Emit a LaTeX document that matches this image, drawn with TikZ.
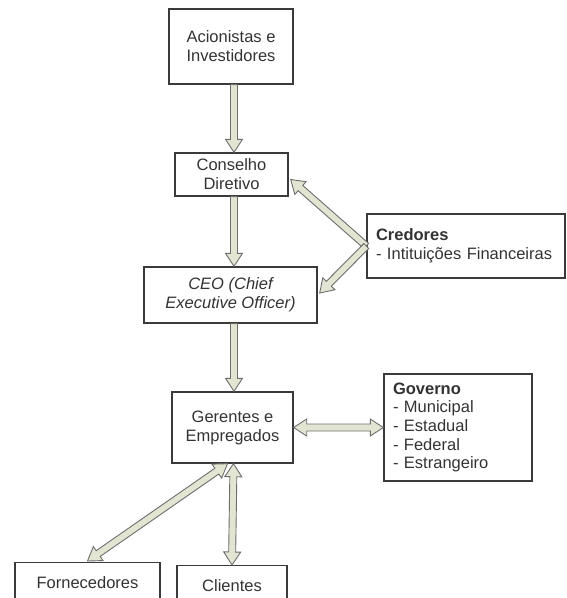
\documentclass[tikz,border=0pt]{standalone}
\usepackage{fontspec}
\setmainfont{Liberation Sans}
\usetikzlibrary{calc}
\definecolor{arrfill}{HTML}{E3E5D3}
\definecolor{arrline}{HTML}{6E6E6E}
\definecolor{boxline}{HTML}{3A3A3A}
\definecolor{txt}{HTML}{333333}
\tikzset{
  box/.style={draw=boxline, line width=1.4pt, fill=white, inner sep=0pt, align=center, text=txt,
              font=\fontsize{16.5}{19}\selectfont},
  blk/.style={fill=arrfill, draw=arrline, line width=0.9pt, line join=miter},
}
% single block arrow, head at #2
\newcommand{\arrS}[2]{%
  \path (#1) coordinate (aA) (#2) coordinate (aB);
  \path ($(aB)!13pt!(aA)$) coordinate (aBh);
  \filldraw[blk] ($(aA)!3.5pt!90:(aB)$) -- ($(aBh)!3.5pt!90:(aB)$) -- ($(aBh)!8.5pt!90:(aB)$)
    -- (aB) -- ($(aBh)!8.5pt!-90:(aB)$) -- ($(aBh)!3.5pt!-90:(aB)$) -- ($(aA)!3.5pt!-90:(aB)$) -- cycle;}
% double block arrow
\newcommand{\arrD}[2]{%
  \path (#1) coordinate (aA) (#2) coordinate (aB);
  \path ($(aB)!13pt!(aA)$) coordinate (aBh) ($(aA)!13pt!(aB)$) coordinate (aAh);
  \filldraw[blk] (aA) -- ($(aAh)!8.5pt!90:(aB)$) -- ($(aAh)!3.5pt!90:(aB)$)
    -- ($(aBh)!3.5pt!-90:(aA)$) -- ($(aBh)!8.5pt!-90:(aA)$) -- (aB)
    -- ($(aBh)!8.5pt!90:(aA)$) -- ($(aBh)!3.5pt!90:(aA)$)
    -- ($(aAh)!3.5pt!-90:(aB)$) -- ($(aAh)!8.5pt!-90:(aB)$) -- cycle;}
\begin{document}
\begin{tikzpicture}[x=1pt,y=-1pt]
\useasboundingbox[fill=white] (0,0) rectangle (567,598);
\node[box, minimum width=124, minimum height=75] (acion) at (231,46.5) {Acionistas e\\Investidores};
\node[box, minimum width=113, minimum height=43] (cons) at (231.5,174.5) {Conselho\\Diretivo};
\node[box, minimum width=173, minimum height=56, font=\fontsize{16.5}{19}\selectfont\itshape] (ceo) at (230.5,295) {CEO (Chief\\Executive Officer)};
\node[box, text width=180, inner xsep=9, minimum height=64, align=left] (cred) at (466,246) {\textbf{Credores}\\- Intituições Financeiras};
\node[box, minimum width=121, minimum height=71] (ger) at (232.5,427.5) {Gerentes e\\Empregados};
\node[box, text width=130, inner xsep=9, minimum height=107, align=left, font=\fontsize{16.5}{18.7}\selectfont] (gov) at (458,427.5) {\textbf{Governo}\\- Municipal\\- Estadual\\- Federal\\- Estrangeiro};
\node[box, minimum width=145, minimum height=40, anchor=north] (forn) at (87.5,562) {Fornecedores};
\node[box, minimum width=110, minimum height=40, anchor=north] (cli) at (232,565) {Clientes};
\arrS{$(acion.south)+(3,0)$}{$(cons.north)+(2.5,0)$}
\arrS{$(cons.south)+(2.5,0)$}{$(ceo.north)+(3.5,0)$}
\arrS{$(ceo.south)+(3.5,0)$}{$(ger.north)+(1.5,0)$}
\arrS{cred.west}{$(cons.east)+(2,5)$}
\arrS{cred.west}{$(ceo.east)+(2,-2)$}
\arrD{ger.east}{gov.west}
\arrD{$(ger.south)+(-5,0)$}{$(forn.north)+(0,-1)$}
\arrD{$(ger.south)+(1,0)$}{cli.north}
\end{tikzpicture}
\end{document}
